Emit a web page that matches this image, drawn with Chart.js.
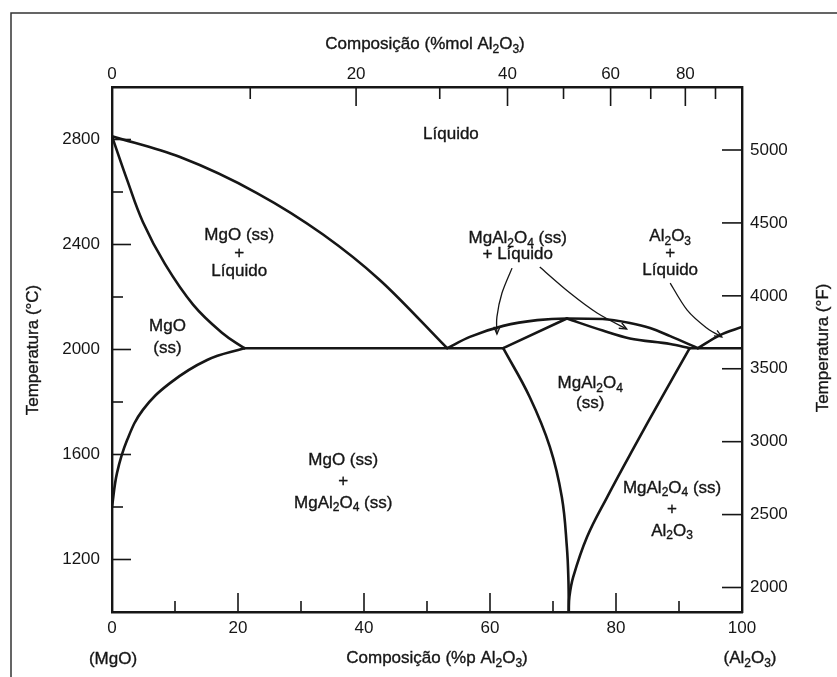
<!DOCTYPE html>
<html>
<head>
<meta charset="utf-8">
<script src="https://cdn.jsdelivr.net/npm/chart.js@4.4.1/dist/chart.umd.min.js"></script>
<style>
html,body{margin:0;padding:0;background:#fff;}
#wrap{width:837px;height:677px;position:relative;}
</style>
</head>
<body>
<div id="wrap"><canvas id="c"></canvas></div>
<script>
// ---------- data (wt% Al2O3, temperature °C) ----------
const mgoLiquidus_x = [0, 10.8, 23.0, 33.5, 42.5, 53.2];
const mgoLiquidus_T = [2812, 2733, 2596, 2438, 2265, 2005];

const mgoSolidus_x = [0, 2.4, 4.9, 8.4, 12.9, 17.5, 21.0];
const mgoSolidus_T = [2812, 2646, 2486, 2326, 2170, 2063, 2005];

const mgoSolvus_x = [0, 0.8, 2.4, 4.9, 9.2, 15.1, 21.0];
const mgoSolvus_T = [1400, 1530, 1655, 1770, 1872, 1960, 2005];

const eutecticLeft_x = [21.0, 62.1];
const eutecticLeft_T = [2005, 2005];

const spinelLiquidus_x = [53.2, 56.8, 62.1, 67.5, 72.2, 77.9, 82.2, 85.4, 88.6, 93.0];
const spinelLiquidus_T = [2005, 2048, 2090, 2112, 2118, 2116, 2101, 2082, 2051, 2005];

const spinelSolidusL_x = [62.1, 72.2];
const spinelSolidusL_T = [2005, 2118];

const spinelSolidusR_x = [72.2, 77.9, 82.2, 88.6, 91.7];
const spinelSolidusR_T = [2118, 2072, 2042, 2021, 2005];

const aluminaLiquidus_x = [93.0, 96.5, 100];
const aluminaLiquidus_T = [2005, 2055, 2086];

const eutecticRight_x = [91.7, 100];
const eutecticRight_T = [2005, 2005];

const spinelSolvusL_x = [62.1, 66.3, 69.5, 71.4, 72.2, 72.45, 72.5];
const spinelSolvusL_T = [2005, 1819, 1629, 1438, 1248, 1120, 1000];

const spinelSolvusR_x = [72.5, 72.6, 73.2, 75.4, 78.6, 82.9, 87.3, 91.7];
const spinelSolvusR_T = [1000, 1057, 1133, 1286, 1438, 1629, 1819, 2005];

// ---------- axis ticks ----------
const wtTicks  = [0, 10, 20, 30, 40, 50, 60, 70, 80, 90, 100];
const molTicks = [0, 10, 20, 30, 40, 50, 60, 70, 80, 90];
const cTicks   = [1200, 1400, 1600, 1800, 2000, 2200, 2400, 2600, 2800];
const fTicks   = [2000, 2500, 3000, 3500, 4000, 4500, 5000];
const MW_AL2O3 = 101.96, MW_MGO = 40.30;
const T_MIN = 1000, T_MAX = 3000;

const molToWt = m => 100 * m * MW_AL2O3 / (m * MW_AL2O3 + (100 - m) * MW_MGO);
const cToF = c => c * 1.8 + 32;

// ---------- annotations ----------
const regionLabels = [
  { lines: ['Líquido'], x: 53.8, T: 2825, gap: 18 },
  { lines: ['MgO (ss)', '+', 'Líquido'], x: 20.2, T: 2371, gap: 18 },
  { lines: ['MgO', '(ss)'], x: 8.8, T: 2051, gap: 22 },
  { lines: ['MgO (ss)', '+', 'MgAl_2O_4 (ss)'], x: 36.7, T: 1503, gap: 21.5 },
  { lines: ['MgAl_2O_4 (ss)', '+ Líquido'], x: 64.4, T: 2398, gap: 16.5 },
  { lines: ['Al_2O_3', '+', 'Líquido'], x: 88.6, T: 2371, gap: 17 },
  { lines: ['MgAl_2O_4', '(ss)'], x: 75.9, T: 1838, gap: 20 },
  { lines: ['MgAl_2O_4 (ss)', '+', 'Al_2O_3'], x: 88.9, T: 1396, gap: 21.5 }
];
const arrows = [
  { x: [63.5, 61.9, 61.1, 61.1], T: [2310, 2215, 2124, 2059] },
  { x: [67.9, 72.7, 77.0, 81.7], T: [2314, 2215, 2139, 2078] },
  { x: [88.6, 91.3, 94.4, 96.8], T: [2253, 2150, 2082, 2048] }
];

const FAM = '"Liberation Sans", Arial, Helvetica, sans-serif';
const INK = '#161616';

function pts(xs, ts) { return xs.map((v, i) => ({ x: v, y: ts[i] })); }
function curve(xs, ts, mode) {
  const ds = { data: pts(xs, ts), showLine: true, pointRadius: 0, borderColor: INK,
           borderWidth: 2.6, fill: false, borderCapStyle: 'round', borderJoinStyle: 'round' };
  if (mode === 'monotone') ds.cubicInterpolationMode = 'monotone';
  else ds.tension = mode;
  return ds;
}

function richParts(s) {
  const parts = []; let buf = '';
  for (let i = 0; i < s.length; i++) {
    if (s[i] === '_') { if (buf) parts.push({ t: buf, sub: false }); buf = ''; parts.push({ t: s[i + 1], sub: true }); i++; }
    else buf += s[i];
  }
  if (buf) parts.push({ t: buf, sub: false });
  return parts;
}
function drawRich(ctx, s, x, yc, size, align) {
  const parts = richParts(s);
  const subSize = Math.round(size * 0.68);
  let w = 0;
  parts.forEach(p => { ctx.font = (p.sub ? subSize : size) + 'px ' + FAM; p.w = ctx.measureText(p.t).width; w += p.w; });
  let cx = align === 'center' ? x - w / 2 : (align === 'right' ? x - w : x);
  const base = yc + size * 0.36;
  ctx.textAlign = 'left'; ctx.textBaseline = 'alphabetic';
  ctx.lineWidth = 0.35; ctx.strokeStyle = ctx.fillStyle;
  parts.forEach(p => {
    ctx.font = (p.sub ? subSize : size) + 'px ' + FAM;
    const yy = base + (p.sub ? size * 0.22 : 0);
    ctx.fillText(p.t, cx, yy);
    ctx.strokeText(p.t, cx, yy);
    cx += p.w;
  });
}

const phasePlugin = {
  id: 'phase',
  beforeDraw(chart) {
    const ctx = chart.ctx;
    ctx.save();
    ctx.fillStyle = '#fff';
    ctx.fillRect(0, 0, chart.width, chart.height);
    ctx.strokeStyle = '#333'; ctx.lineWidth = 1.5;
    ctx.beginPath(); ctx.moveTo(11, chart.height); ctx.lineTo(11, 13); ctx.lineTo(chart.width, 13); ctx.stroke();
    ctx.restore();
  },
  afterDraw(chart) {
    const ctx = chart.ctx;
    const { x, y, x2, y2 } = chart.scales;
    const a = chart.chartArea;
    ctx.save();
    // inward ticks
    ctx.strokeStyle = INK; ctx.lineWidth = 1.6;
    const seg = (x0, y0, x1, y1) => { ctx.beginPath(); ctx.moveTo(x0, y0); ctx.lineTo(x1, y1); ctx.stroke(); };
    x.ticks.forEach(t => { const v = t.value; if (v <= 0 || v >= 100) return;
      const L = v % 20 === 0 ? 19 : 11; const p = x.getPixelForValue(v); seg(p, a.bottom, p, a.bottom - L); });
    x2.ticks.forEach((t, i) => { const m = molTicks[i]; if (!m) return;
      const L = m % 20 === 0 ? 19 : 12; const p = x2.getPixelForValue(t.value); seg(p, a.top, p, a.top + L); });
    y.ticks.forEach(t => { const v = t.value; const L = v % 400 === 0 ? 19 : 11;
      const p = y.getPixelForValue(v); seg(a.left, p, a.left + L, p); });
    y2.ticks.forEach(t => { const p = y2.getPixelForValue(t.value); seg(a.right, p, a.right - 20, p); });

    // arrows
    ctx.lineWidth = 1.3;
    arrows.forEach(ar => {
      const P = ar.x.map((v, i) => ({ x: x.getPixelForValue(v), y: y.getPixelForValue(ar.T[i]) }));
      ctx.beginPath(); ctx.moveTo(P[0].x, P[0].y);
      for (let i = 0; i < P.length - 1; i++) {
        const p0 = P[Math.max(0, i - 1)], p1 = P[i], p2 = P[i + 1], p3 = P[Math.min(P.length - 1, i + 2)];
        ctx.bezierCurveTo(p1.x + (p2.x - p0.x) / 6, p1.y + (p2.y - p0.y) / 6,
                          p2.x - (p3.x - p1.x) / 6, p2.y - (p3.y - p1.y) / 6, p2.x, p2.y);
      }
      ctx.stroke();
      const e = P[P.length - 1], s = P[P.length - 2];
      const ang = Math.atan2(e.y - s.y, e.x - s.x);
      ctx.beginPath();
      ctx.moveTo(e.x - 8 * Math.cos(ang - 0.4), e.y - 8 * Math.sin(ang - 0.4));
      ctx.lineTo(e.x, e.y);
      ctx.lineTo(e.x - 8 * Math.cos(ang + 0.4), e.y - 8 * Math.sin(ang + 0.4));
      ctx.stroke();
    });

    // region labels
    ctx.fillStyle = INK;
    regionLabels.forEach(r => {
      const cx = x.getPixelForValue(r.x), cy = y.getPixelForValue(r.T);
      const n = r.lines.length;
      r.lines.forEach((ln, i) => drawRich(ctx, ln, cx, cy + (i - (n - 1) / 2) * r.gap, 17, 'center'));
    });

    // axis titles
    drawRich(ctx, 'Composição (%mol Al_2O_3)', 425, 43, 17, 'center');
    drawRich(ctx, 'Composição (%p Al_2O_3)', 437, 657, 17, 'center');
    drawRich(ctx, '(MgO)', 113, 658, 17, 'center');
    drawRich(ctx, '(Al_2O_3)', 750, 657, 17, 'center');
    ctx.save(); ctx.translate(32, 350); ctx.rotate(-Math.PI / 2);
    drawRich(ctx, 'Temperatura (°C)', 0, 0, 17, 'center'); ctx.restore();
    ctx.save(); ctx.translate(822, 348); ctx.rotate(-Math.PI / 2);
    drawRich(ctx, 'Temperatura (°F)', 0, 0, 17, 'center'); ctx.restore();
    ctx.restore();
  }
};

const tickFont = { family: FAM, size: 17 };
const borderOpt = { display: true, color: INK, width: 2.4 };

new Chart(document.getElementById('c'), {
  type: 'scatter',
  data: {
    datasets: [
      curve(mgoLiquidus_x, mgoLiquidus_T, 'monotone'),
      curve(mgoSolidus_x, mgoSolidus_T, 0.4),
      curve(mgoSolvus_x, mgoSolvus_T, 0.4),
      curve(eutecticLeft_x, eutecticLeft_T, 0),
      curve(spinelLiquidus_x, spinelLiquidus_T, 'monotone'),
      curve(spinelSolidusL_x, spinelSolidusL_T, 0),
      curve(spinelSolidusR_x, spinelSolidusR_T, 'monotone'),
      curve(aluminaLiquidus_x, aluminaLiquidus_T, 'monotone'),
      curve(eutecticRight_x, eutecticRight_T, 0),
      curve(spinelSolvusL_x, spinelSolvusL_T, 0.4),
      curve(spinelSolvusR_x, spinelSolvusR_T, 0.4)
    ]
  },
  options: {
    responsive: true,
    maintainAspectRatio: false,
    animation: false,
    events: [],
    layout: { padding: 0 },
    plugins: { legend: { display: false }, tooltip: { enabled: false }, title: { display: false } },
    scales: {
      x: {
        type: 'linear', position: 'bottom', min: 0, max: 100,
        afterBuildTicks: s => { s.ticks = wtTicks.map(v => ({ value: v })); },
        afterFit: s => { s.height = 65; },
        grid: { display: false, drawTicks: false },
        border: borderOpt,
        ticks: { autoSkip: false, maxRotation: 0, padding: 6, color: INK, font: tickFont,
                 callback: v => (v % 20 === 0 ? String(v) : '') }
      },
      x2: {
        type: 'linear', position: 'top', min: 0, max: 100,
        afterBuildTicks: s => { s.ticks = molTicks.map(m => ({ value: molToWt(m) })); },
        afterFit: s => { s.height = 87; },
        grid: { display: false, drawTicks: false },
        border: borderOpt,
        ticks: { autoSkip: false, maxRotation: 0, padding: 2, color: INK, font: tickFont,
                 callback: (v, i) => (molTicks[i] % 20 === 0 ? String(molTicks[i]) : '') }
      },
      y: {
        type: 'linear', position: 'left', min: T_MIN, max: T_MAX,
        afterBuildTicks: s => { s.ticks = cTicks.map(v => ({ value: v })); },
        afterFit: s => { s.width = 112; },
        grid: { display: false, drawTicks: false },
        border: borderOpt,
        ticks: { autoSkip: false, padding: 12, color: INK, font: tickFont,
                 callback: v => (v % 400 === 0 ? String(v) : '') }
      },
      y2: {
        type: 'linear', position: 'right', min: cToF(T_MIN), max: cToF(T_MAX),
        afterBuildTicks: s => { s.ticks = fTicks.map(v => ({ value: v })); },
        afterFit: s => { s.width = 95; },
        grid: { display: false, drawTicks: false },
        border: borderOpt,
        ticks: { autoSkip: false, padding: 8, color: INK, font: tickFont, callback: v => String(v) }
      }
    }
  },
  plugins: [phasePlugin]
});
</script>
</body>
</html>
